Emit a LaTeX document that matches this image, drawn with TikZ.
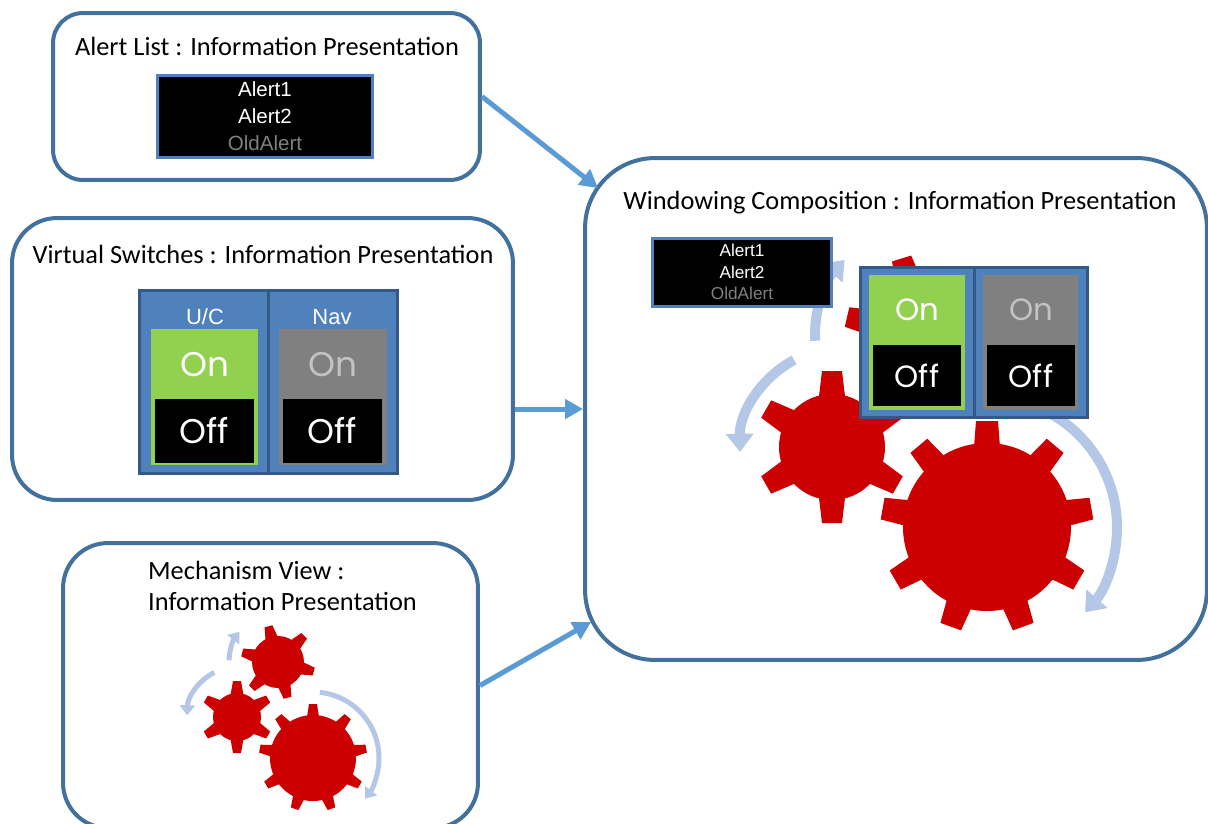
\documentclass[tikz,border=0pt]{standalone}
\usepackage{fontspec}
\setmainfont{Carlito}
\newfontfamily\arialfont{Liberation Sans}
\newfontfamily\switchfont{Poppins}
\usetikzlibrary{arrows.meta, positioning, calc}

\definecolor{boxblue}{RGB}{65,113,156}
\definecolor{feedblue}{RGB}{91,155,213}
\definecolor{panelblue}{RGB}{79,129,189}
\definecolor{paneledge}{RGB}{52,88,135}
\definecolor{ongreen}{RGB}{146,208,80}
\definecolor{offgrey}{RGB}{128,128,128}
\definecolor{dimtext}{RGB}{195,195,195}
\definecolor{gearred}{RGB}{204,0,0}
\definecolor{arcblue}{RGB}{180,199,231}

% gear: centre, body radius, tip radius, teeth, first tooth angle, base half width, tip half width
\newcommand{\drawgear}[7]{%
  \fill[gearred] #1 circle (#2);
  \foreach \t in {1,...,#4}
    \fill[gearred, shift={#1}, rotate={#5+360/#4*(\t-1)}]
      ({#2*0.8},-#6) -- (#3,-#7) -- (#3,#7) -- ({#2*0.8},#6) -- cycle;
}

\tikzset{
  infobox/.style={draw=boxblue, line width=0.08cm, fill=white},
  title/.style={font=\fontsize{15}{17.6}\selectfont, align=left},
  feed/.style={draw=feedblue, line width=0.1cm, -{Triangle[length=0.36cm,width=0.38cm]}},
  alertpanel/.style={draw=panelblue, line width=0.06cm, fill=black, text=white, align=center, inner sep=0pt},
  panel/.style={draw=paneledge, line width=0.06cm, fill=panelblue, inner sep=0pt},
  onbox/.style={fill=ongreen, inner sep=0pt},
  greybox/.style={fill=offgrey, inner sep=0pt},
  offbox/.style={fill=black, text=white, inner sep=0pt, font=\switchfont\fontsize{#1}{20}\selectfont},
  offbox/.default=19.5,
  ontext/.style={text=white, font=\switchfont\fontsize{#1}{20}\selectfont},
  ontext/.default=19.5,
  swlabel/.style={text=white, font=\arialfont\fontsize{12.5}{14}\selectfont},
  spin/.style={draw=arcblue, line width=0.2cm, -{Triangle[length=0.36cm,width=0.54cm]}},
  smallspin/.style={draw=arcblue, line width=0.1cm, -{Triangle[length=0.2cm,width=0.3cm]}},
}

\begin{document}
\begin{tikzpicture}[x=0.02cm, y=0.02cm]
\useasboundingbox (0,0) rectangle (1208,-823);
\clip (0,0) rectangle (1208,-823);

% the four views
\node[infobox, rounded corners=0.6cm, minimum width=8.54cm, minimum height=3.34cm] (alertbox) at (266.5,-96.5) {};
\node[infobox, rounded corners=0.9cm, minimum width=10.02cm, minimum height=5.64cm] (switchbox) at (262.5,-359) {};
\node[infobox, rounded corners=0.9cm, minimum width=8.3cm, minimum height=5.7cm] (mechbox) at (270.5,-685.5) {};
\node[infobox, rounded corners=1.4cm, minimum width=12.44cm, minimum height=10.04cm] (winbox) at (896,-409) {};

\node[title] (alerttitle) at (267,-46) {Alert List : Information Presentation};
\node[title] (switchtitle) at (263,-254) {Virtual Switches : Information Presentation};
\node[title, anchor=west] (mechtitle) at (142,-585.5) {Mechanism View :\\Information Presentation};
\node[title] (wintitle) at (900,-203) {Windowing Composition : Information Presentation};

% alert list
\node[alertpanel, minimum width=4.32cm, minimum height=1.64cm,
      font=\arialfont\fontsize{11.7}{15.3}\selectfont] (alerts) at (265,-116)
  {Alert1\\Alert2\\\textcolor{offgrey}{OldAlert}};

% virtual switches
\node[panel, minimum width=5.18cm, minimum height=3.68cm] (swpanel) at (268.5,-382) {};
\draw[paneledge, line width=0.06cm] (swpanel.north) -- (swpanel.south);
\node[swlabel] (uclabel) at (205,-317) {U/C};
\node[swlabel] (navlabel) at (332,-317) {Nav};
\node[onbox, minimum width=2.14cm, minimum height=2.72cm] (ucon) at (204.5,-397) {};
\node[offbox, minimum width=1.98cm, minimum height=1.28cm] (ucoff) at (204.5,-431) {Off};
\node[ontext] (ucontext) at (204.5,-365) {On};
\node[greybox, minimum width=2.16cm, minimum height=2.72cm] (navon) at (333,-397) {};
\node[offbox, minimum width=1.98cm, minimum height=1.28cm] (navoff) at (332.5,-431) {Off};
\node[ontext, text=dimtext] (navontext) at (332.5,-365) {On};

% mechanism view
\draw[smallspin] (278,-662) ++(178:49) arc (178:142:49);
\draw[smallspin] (237,-717) ++(117:50) arc (117:178:50);
\draw[smallspin] (313,-758) ++(84:66) arc (84:-38:66);
\drawgear{(278,-662)}{26}{37}{6}{105}{7}{4}
\drawgear{(237,-717)}{24}{36}{6}{90}{7}{4}
\drawgear{(313,-758)}{43}{54}{9}{10}{7}{4}

% composed window
\drawgear{(925,-335)}{55}{80}{6}{47}{14}{10}
\drawgear{(832,-447)}{53}{76}{6}{90}{14}{10}
\drawgear{(987,-527)}{84}{106}{9}{90}{14}{11}
\draw[spin] (925,-335) ++(183:110) arc (183:137:110);
\draw[spin] (842,-450) ++(118:102) arc (118:181:102);
\draw[spin] (987,-527) ++(62:130) arc (62:-41:130);

\node[alertpanel, minimum width=3.58cm, minimum height=1.36cm,
      font=\arialfont\fontsize{9.8}{12.3}\selectfont] (winalerts) at (742,-272)
  {Alert1\\Alert2\\\textcolor{offgrey}{OldAlert}};

\node[panel, minimum width=4.56cm, minimum height=3.02cm] (winpanel) at (974,-342.5) {};
\draw[paneledge, line width=0.06cm] (winpanel.north) -- (winpanel.south);
\node[onbox, minimum width=1.92cm, minimum height=2.7cm] (winucon) at (917,-342.5) {};
\node[offbox=17.5, minimum width=1.76cm, minimum height=1.22cm] (winucoff) at (917,-375.5) {Off};
\node[ontext=17.5] (winucontext) at (917,-310) {On};
\node[greybox, minimum width=1.9cm, minimum height=2.7cm] (winnavon) at (1030.5,-342.5) {};
\node[offbox=17.5, minimum width=1.76cm, minimum height=1.22cm] (winnavoff) at (1031,-375.5) {Off};
\node[ontext=17.5, text=dimtext] (winnavontext) at (1031,-310) {On};

% feeds into the composition
\draw[feed] (alertbox.east) -- ($(winbox.north west)+(15,-32)$);
\draw[feed] (winbox.west -| switchbox.east) -- (winbox.west);
\draw[feed] (mechbox.east) -- ($(winbox.south west)+(8,40)$);
\end{tikzpicture}
\end{document}
